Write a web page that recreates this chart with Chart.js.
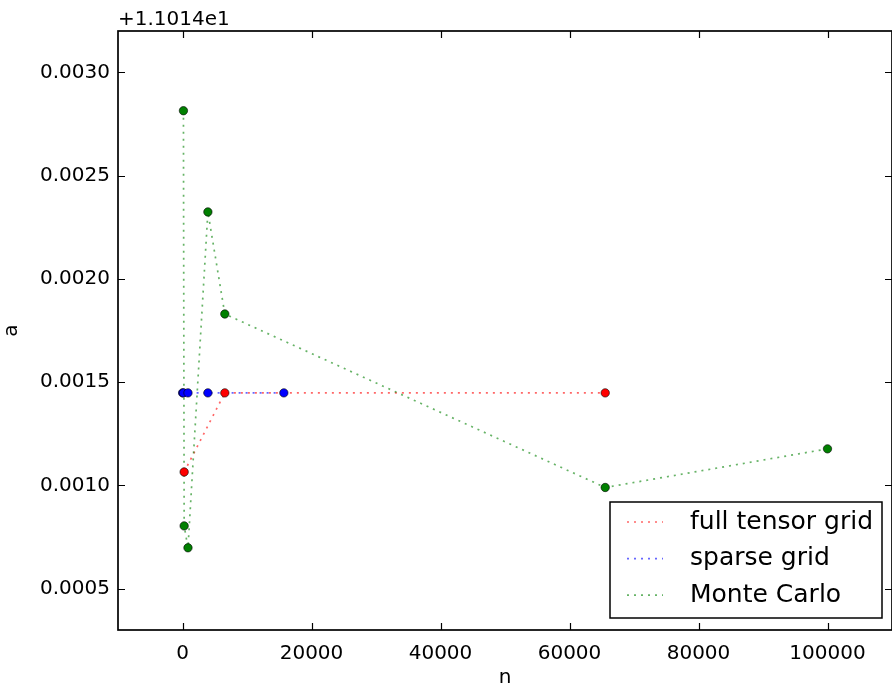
<!DOCTYPE html>
<html>
<head>
<meta charset="utf-8">
<script src="https://cdn.jsdelivr.net/npm/chart.js@4"></script>
<style>
  html, body { margin: 0; padding: 0; background: #fff; overflow: hidden; }
  #wrap { width: 892px; height: 690px; }
</style>
</head>
<body>
<div id="wrap"><canvas id="convChart"></canvas></div>
<script>
// values are shown relative to the axis offset +1.1014e1
const seriesNames = ['full tensor grid', 'sparse grid', 'Monte Carlo'];
const fullN = [256, 6561, 65536];
const fullA = [0.001065, 0.001448, 0.001448];
const sparseN = [17, 145, 849, 3937, 15713];
const sparseA = [0.001448, 0.001448, 0.001448, 0.001448, 0.001448];
const mcN = [145, 256, 849, 3937, 6561, 65536, 100000];
const mcA = [0.002814, 0.000804, 0.000698, 0.002324, 0.00183, 0.00099, 0.001177];
const xTicks = [0, 20000, 40000, 60000, 80000, 100000];
const yTicks = [0.0005, 0.0010, 0.0015, 0.0020, 0.0025, 0.0030];
const offsetText = '+1.1014e1';

const FONT = 'DejaVu Sans';
const lineColors = ['rgba(255,0,0,0.6)', 'rgba(0,0,255,0.6)', 'rgba(0,128,0,0.6)'];
const markColors = ['#ff0000', '#0000ff', '#008000'];
const dots = [2, 5];

const toXY = (xs, ys) => xs.map((x, i) => ({x: x, y: ys[i]}));
const allSeries = [toXY(fullN, fullA), toXY(sparseN, sparseA), toXY(mcN, mcA)];

const datasets = [];
// lines first, markers on top
allSeries.forEach((pts, i) => {
    datasets.push({
        label: seriesNames[i],
        data: pts,
        showLine: true,
        borderColor: lineColors[i],
        borderWidth: 1.7,
        borderDash: dots,
        pointRadius: 0,
        order: 10 - i
    });
});
allSeries.forEach((pts, i) => {
    datasets.push({
        label: seriesNames[i] + ' points',
        data: pts,
        showLine: false,
        pointRadius: 4.2,
        pointBackgroundColor: markColors[i],
        pointBorderColor: '#000',
        pointBorderWidth: 0.6,
        order: 3 - i
    });
});

// matplotlib-ish frame, inward ticks, offset text and legend box
const mplLook = {
    id: 'mplLook',
    afterDatasetsDraw(chart) {
        const ctx = chart.ctx;
        const a = chart.chartArea;
        const xs = chart.scales.x, ys = chart.scales.y;
        ctx.save();
        ctx.strokeStyle = '#000';
        ctx.lineWidth = 1.2;
        xTicks.forEach(v => {
            const px = Math.round(xs.getPixelForValue(v)) + 0.5;
            ctx.beginPath();
            ctx.moveTo(px, a.bottom); ctx.lineTo(px, a.bottom - 7);
            ctx.moveTo(px, a.top); ctx.lineTo(px, a.top + 7);
            ctx.stroke();
        });
        yTicks.forEach(v => {
            const py = Math.round(ys.getPixelForValue(v)) + 0.5;
            ctx.beginPath();
            ctx.moveTo(a.left, py); ctx.lineTo(a.left + 7, py);
            ctx.moveTo(a.right, py); ctx.lineTo(a.right - 7, py);
            ctx.stroke();
        });
        ctx.lineWidth = 1.7;
        ctx.strokeRect(a.left, a.top, a.right - a.left, a.bottom - a.top);

        ctx.fillStyle = '#000';
        ctx.font = '20px "' + FONT + '"';
        ctx.textBaseline = 'alphabetic';
        ctx.textAlign = 'left';
        ctx.fillText(offsetText, a.left, a.top - 6);

        // legend
        const bx = a.right - 282, by = a.bottom - 128, bw = 272, bh = 116;
        ctx.fillStyle = '#fff';
        ctx.fillRect(bx, by, bw, bh);
        ctx.lineWidth = 1.5;
        ctx.strokeStyle = '#000';
        ctx.strokeRect(bx, by, bw, bh);
        ctx.font = '25px "' + FONT + '"';
        ctx.textBaseline = 'middle';
        seriesNames.forEach((name, i) => {
            const ry = by + 20 + i * 36.6;
            ctx.beginPath();
            ctx.setLineDash(dots);
            ctx.strokeStyle = lineColors[i];
            ctx.lineWidth = 1.7;
            ctx.moveTo(bx + 17, ry);
            ctx.lineTo(bx + 53, ry);
            ctx.stroke();
            ctx.setLineDash([]);
            ctx.fillStyle = '#000';
            ctx.fillText(name, bx + 80, ry);
        });
        ctx.restore();
    }
};

const ctx = document.getElementById('convChart').getContext('2d');
const convChart = new Chart(ctx, {
    type: 'scatter',
    data: { datasets: datasets },
    options: {
        responsive: true,
        maintainAspectRatio: false,
        animation: false,
        devicePixelRatio: 1,
        layout: { autoPadding: false, padding: { top: 31, right: 0, left: 0, bottom: 0 } },
        plugins: {
            legend: { display: false },
            tooltip: { enabled: false }
        },
        scales: {
            x: {
                type: 'linear',
                min: -10000,
                max: 110000,
                afterBuildTicks: s => { s.ticks = xTicks.map(v => ({value: v})); },
                afterFit: s => { s.height = 60; s.paddingLeft = 0; s.paddingRight = 0; },
                grid: { display: false, drawTicks: false },
                border: { display: false },
                ticks: {
                    color: '#000',
                    font: { family: FONT, size: 20 },
                    padding: 12,
                    maxRotation: 0,
                    callback: v => String(v)
                },
                title: {
                    display: true,
                    text: 'n',
                    color: '#000',
                    font: { family: FONT, size: 20 },
                    padding: { top: 0, bottom: 0 }
                }
            },
            y: {
                type: 'linear',
                min: 0.0003,
                max: 0.0032,
                afterBuildTicks: s => { s.ticks = yTicks.map(v => ({value: v})); },
                afterFit: s => { s.width = 118; s.paddingTop = 0; s.paddingBottom = 0; },
                grid: { display: false, drawTicks: false },
                border: { display: false },
                ticks: {
                    color: '#000',
                    font: { family: FONT, size: 20 },
                    padding: 8,
                    callback: v => v.toFixed(4)
                },
                title: {
                    display: true,
                    text: 'a',
                    color: '#000',
                    font: { family: FONT, size: 20 },
                    padding: { top: 0, bottom: 7 }
                }
            }
        }
    },
    plugins: [mplLook]
});
</script>
</body>
</html>
